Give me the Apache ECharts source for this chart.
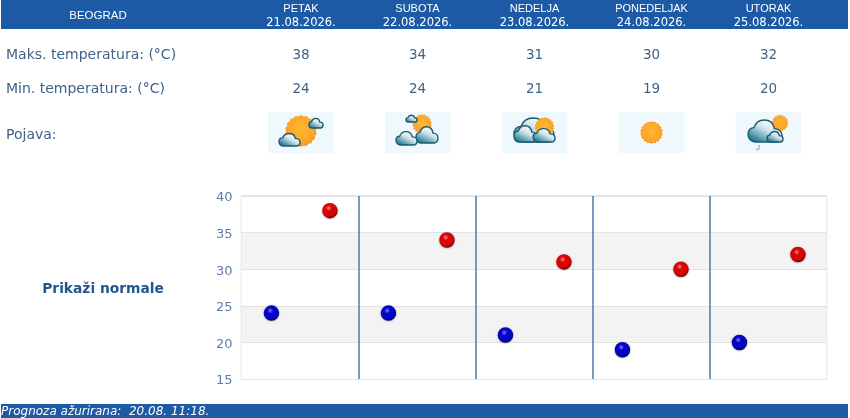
<!DOCTYPE html>
<html><head><meta charset="utf-8">
<style>html,body{margin:0;padding:0;background:#fff}#c{width:850px;height:418px}</style>
<script src="https://cdn.jsdelivr.net/npm/echarts@6/dist/echarts.min.js"></script>
</head><body><div id="c"></div>
<script>
const city = 'BEOGRAD';
const days = ['PETAK','SUBOTA','NEDELJA','PONEDELJAK','UTORAK'];
const dates = ['21.08.2026.','22.08.2026.','23.08.2026.','24.08.2026.','25.08.2026.'];
const maxTemps = [38,34,31,30,32];
const minTemps = [24,24,21,19,20];
const rowLabels = ['Maks. temperatura: (°C)','Min. temperatura: (°C)','Pojava:'];
const normalsLabel = 'Prikaži normale';
const updatedLabel = 'Prognoza ažurirana:  20.08. 11:18.';
const yTicks = {min:15,max:40,interval:5};

echarts.graphic.registerShape('cloud', echarts.graphic.extendShape({
  shape:{x:0,y:0,width:40,height:24},
  buildPath(ctx,s){
    const X=v=>s.x+v/40*s.width, Y=v=>s.y+v/24*s.height;
    ctx.moveTo(X(9),Y(24));
    ctx.bezierCurveTo(X(3),Y(24),X(0),Y(20),X(0),Y(16));
    ctx.bezierCurveTo(X(0),Y(12),X(3),Y(9),X(7),Y(9));
    ctx.bezierCurveTo(X(9),Y(4),X(13),Y(1),X(19),Y(1));
    ctx.bezierCurveTo(X(26),Y(1),X(30),Y(5),X(31),Y(10));
    ctx.bezierCurveTo(X(36),Y(10),X(40),Y(13),X(40),Y(17));
    ctx.bezierCurveTo(X(40),Y(21),X(37),Y(24),X(33),Y(24));
    ctx.closePath();
  }
}));

const colX = [301,417.5,534.5,651.5,768.5];
const BLUE = '#1c5aa5', TXT = '#3f6288';
const g = [];
function txt(x,y,text,o){g.push({type:'text',x,y,z:5,style:Object.assign({text,fill:TXT,font:'13.5px "DejaVu Sans"',textAlign:'center',textVerticalAlign:'middle'},o||{})});}
g.push({type:'rect',shape:{x:1,y:0,width:847,height:29},style:{fill:BLUE},z:2});
g.push({type:'rect',shape:{x:1,y:404,width:847,height:14},style:{fill:BLUE},z:2});
const hdr = '11px "Liberation Sans"';
txt(98,15.5,city,{fill:'#fff',font:'11.5px "Liberation Sans"'});
days.forEach((d,i)=>{
  txt(colX[i],8.5,d,{fill:'#fff',font:hdr});
  txt(colX[i],23,dates[i],{fill:'#fff',font:'11.5px "DejaVu Sans"'});
  txt(colX[i],55.5,String(maxTemps[i]));
  txt(colX[i],89,String(minTemps[i]));
});
const la = {textAlign:'left',font:'14px "DejaVu Sans"'};
txt(6,55.5,rowLabels[0],la); txt(6,89,rowLabels[1],la); txt(6,135.5,rowLabels[2],la);
txt(103,289,normalsLabel,{fill:'#22568f',font:'bold 13.8px "DejaVu Sans"'});
txt(1,411.5,updatedLabel,{fill:'#fff',textAlign:'left',font:'italic 12px "DejaVu Sans"'});

const boxes=[[268,65.5],[385,65.5],[502,65.5],[619,65.5],[735.5,66]];
boxes.forEach(b=>g.push({type:'rect',shape:{x:b[0],y:112,width:b[1],height:41},style:{fill:'#eff9fd'},z:3}));
function sun(cx,cy,r,z){
  const pts=[],n=18;
  for(let i=0;i<n*2;i++){const a=i*Math.PI/n,R=i%2?r:r-1.2;pts.push([cx+R*Math.cos(a),cy+R*Math.sin(a)]);}
  g.push({type:'polygon',z:z||4,shape:{points:pts},style:{fill:{type:'radial',x:.5,y:.45,r:.55,colorStops:[{offset:0,color:'#ffb832'},{offset:.75,color:'#fca52a'},{offset:1,color:'#f2941e'}]}}});
}
function cloud(x,y,w,h,z){
  g.push({type:'cloud',z:z||4,shape:{x,y,width:w,height:h},
    style:{lineWidth:1.4,stroke:'#1a5a6e',fill:{type:'linear',x:.6,y:0,x2:.25,y2:1,colorStops:[{offset:0,color:'#ffffff'},{offset:.4,color:'#cfe4ea'},{offset:1,color:'#14708a'}]}}});
}
sun(301,131,16); cloud(309,118,14,10,5); cloud(279,133,21,13,5);
sun(422,124,10); cloud(406,115,11,7,5); cloud(416,126,22,17,5); cloud(396,131,21,14,6);
cloud(514,117,40,25,4); sun(544.5,127,10,5); cloud(514,125,23,17,6); cloud(533,128,22,14,6);
sun(651.5,132.5,11.5);
sun(780,123,8.5); cloud(748,119,34,23,5); cloud(767,131,16,11,6);
g.push({type:'polyline',z:5,shape:{points:[[759,145],[759,149],[758,150],[756,149]]},style:{stroke:'#8a9aa5',fill:null,lineWidth:1}});

function ball(c0,c1,c2){return {type:'radial',x:.42,y:.34,r:.68,colorStops:[{offset:0,color:c0},{offset:.28,color:c1},{offset:.72,color:c1},{offset:1,color:c2}]};}
const series=[
 {name:'min',slot:.25,vals:minTemps,color:ball('#7f7fff','#0505c4','#000060')},
 {name:'max',slot:.75,vals:maxTemps,color:ball('#ff8a8a','#d80505','#680000')}
].map(s=>({type:'scatter',name:s.name,symbol:'circle',symbolSize:15.5,symbolOffset:[0.7,0],
  data:s.vals.map((v,i)=>[i+s.slot,v]),
  itemStyle:{color:s.color,opacity:1,shadowColor:'rgba(0,0,0,.35)',shadowBlur:2,shadowOffsetY:.5},z:4}));

const chart=echarts.init(document.getElementById('c'));
chart.setOption({
  animation:false,backgroundColor:'#fff',
  grid:{left:241.5,top:196,width:585,height:183,show:true,borderColor:'#dedede',borderWidth:1.5,containLabel:false},
  xAxis:{type:'value',min:0,max:days.length,interval:1,axisLine:{show:false},axisTick:{show:false},axisLabel:{show:false},
    splitLine:{show:true,showMinLine:false,showMaxLine:false,lineStyle:{color:'#4a7aac',width:1.5}}},
  yAxis:{type:'value',min:yTicks.min,max:yTicks.max,interval:yTicks.interval,axisLine:{show:false},axisTick:{show:false},
    axisLabel:{margin:9,color:'#5c7ea6',fontFamily:'DejaVu Sans',fontSize:13,verticalAlign:'top',lineHeight:4},
    splitLine:{show:true,lineStyle:{color:'#e2e2e2',width:1}},
    splitArea:{show:true,areaStyle:{color:['#ffffff','#f3f3f3']}}},
  series,
  graphic:{elements:g}
});
</script></body></html>
